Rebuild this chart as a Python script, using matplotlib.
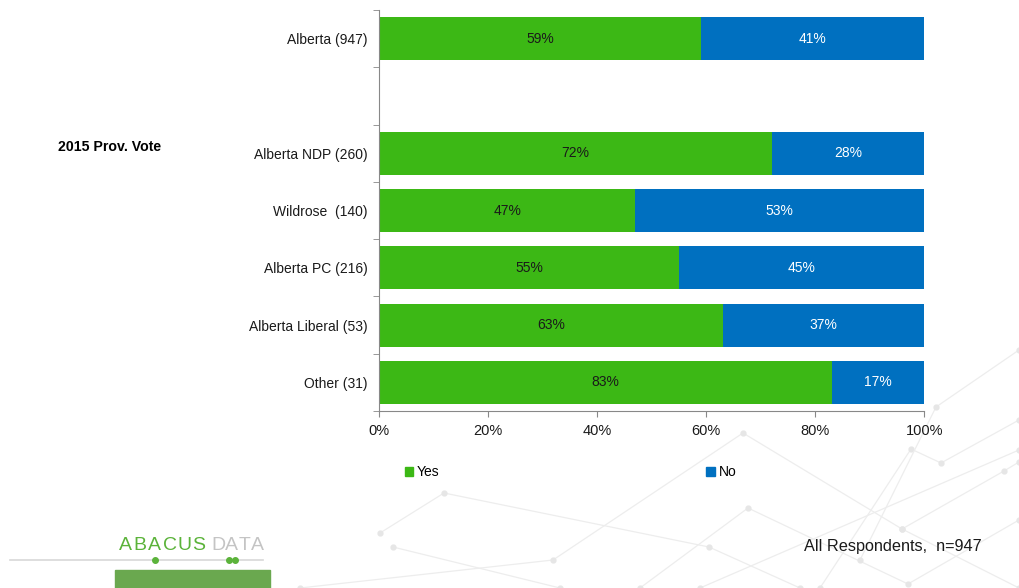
import matplotlib
matplotlib.use("Agg")
import matplotlib.pyplot as plt
from matplotlib.patches import Rectangle
from matplotlib.lines import Line2D

plt.rcParams['font.family'] = ['Liberation Sans', 'DejaVu Sans']

# data (top to bottom); empty string = spacer row
categories = ['Alberta (947)', '', 'Alberta NDP (260)', 'Wildrose  (140)',
              'Alberta PC (216)', 'Alberta Liberal (53)', 'Other (31)']
yes = [59, None, 72, 47, 55, 63, 83]
no = [41, None, 28, 53, 45, 37, 17]
xticks = [0, 20, 40, 60, 80, 100]

green = '#3CB815'
blue = '#0070C0'

fig = plt.figure(figsize=(10.19, 5.88), dpi=100)

# faint decorative network lines in the background (pixel space)
bg = fig.add_axes([0, 0, 1, 1], zorder=-1)
bg.set_xlim(0, 1019)
bg.set_ylim(588, 0)
bg.axis('off')
paths = [
    [(380, 533), (444, 493), (709, 547), (800, 588)],
    [(300, 588), (553, 560), (743, 433), (902, 529), (1019, 588)],
    [(393, 547), (560, 588)],
    [(640, 588), (748, 508), (908, 584), (1019, 520)],
    [(820, 588), (911, 449), (941, 463), (1019, 420)],
    [(902, 529), (1004, 471), (1019, 462)],
    [(860, 560), (936, 407), (1019, 350)],
    [(700, 588), (1019, 450)],
]
for p in paths:
    xs = [q[0] for q in p]
    ys = [q[1] for q in p]
    bg.plot(xs, ys, color='#ededed', lw=0.9, marker='o', ms=3.5, mfc='#e6e6e6', mec='#e6e6e6')

ax = fig.add_axes([0.372, 0.301, 0.535, 0.682])
ypos = list(range(len(categories)))
for i in ypos:
    if yes[i] is None:
        continue
    ax.barh(i, yes[i], height=0.75, color=green)
    ax.barh(i, no[i], left=yes[i], height=0.75, color=blue)
    ax.text(yes[i] / 2, i, f'{yes[i]}%', ha='center', va='center', fontsize=10, color='#1a1a1a')
    ax.text(yes[i] + no[i] / 2, i, f'{no[i]}%', ha='center', va='center', fontsize=10, color='white')

ax.set_ylim(len(categories) - 0.5, -0.5)
ax.set_xlim(0, 100)
ax.set_yticks(ypos)
ax.set_yticklabels(categories, fontsize=10, color='#1a1a1a')
ax.set_yticks([y - 0.5 for y in range(len(categories) + 1)], minor=True)
ax.tick_params(axis='y', which='major', length=0, pad=8)
ax.tick_params(axis='y', which='minor', length=4, color='#888888')
ax.set_xticks(xticks)
ax.set_xticklabels([f'{t}%' for t in xticks], fontsize=10.5, color='#1a1a1a')
ax.tick_params(axis='x', length=4, color='#888888', pad=5)
for s in ['top', 'right']:
    ax.spines[s].set_visible(False)
ax.spines['left'].set_color('#888888')
ax.spines['bottom'].set_color('#888888')
ax.patch.set_alpha(0)

fig.text(58 / 1019, 1 - 147 / 588, '2015 Prov. Vote', fontsize=10.2, fontweight='bold', va='center')

# legend
handles = [Rectangle((0, 0), 1, 1, color=green), Rectangle((0, 0), 1, 1, color=blue)]
fig.legend(handles, ['Yes', 'No'], loc='center left', bbox_to_anchor=(392 / 1019, 1 - 472 / 588),
           ncol=2, frameon=False, fontsize=10, handlelength=0.6, handleheight=0.6,
           handletextpad=0.3, columnspacing=19.2)

fig.text(982 / 1019, 1 - 547 / 588, 'All Respondents,  n=947', fontsize=11.7, ha='right', va='center',
         color='#1a1a1a')

# logo
for k, ch in enumerate('ABACUS'):
    fig.text((125.5 + k * 14.7) / 1019, 1 - 545.5 / 588, ch, fontsize=14, color='#5bb33a',
             va='center', ha='center')
for k, ch in enumerate('DATA'):
    fig.text((218 + k * 13.2) / 1019, 1 - 545.5 / 588, ch, fontsize=14, color='#c4c4c4',
             va='center', ha='center')
fig.add_artist(Line2D([10 / 1019, 263 / 1019], [1 - 560 / 588, 1 - 560 / 588], color='#d8d8d8', lw=1.2))
for px in [155, 229, 235]:
    fig.add_artist(Line2D([px / 1019], [1 - 560 / 588], marker='o', ms=4, color='#5bb33a'))
fig.add_artist(Rectangle((115 / 1019, 0), 155 / 1019, 18 / 588, color='#6aa84f', transform=fig.transFigure))

fig.savefig('out.png', dpi=100)
